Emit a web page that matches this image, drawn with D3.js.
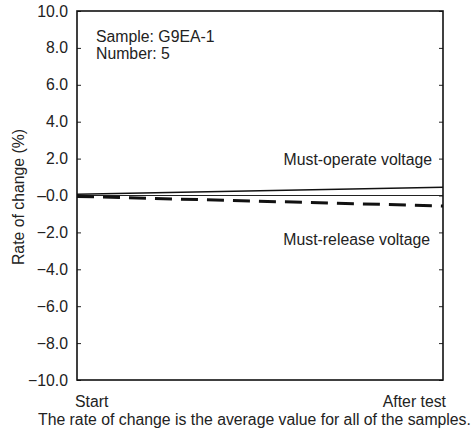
<!DOCTYPE html>
<html>
<head>
<meta charset="utf-8">
<script src="https://cdn.jsdelivr.net/npm/d3@7"></script>
<style>
  html, body { margin: 0; padding: 0; background: #fff; }
  svg { display: block; }
  text { font-family: "Liberation Sans", Arial, sans-serif; fill: #222; }
</style>
</head>
<body>
<svg id="chart" width="475" height="434"></svg>
<script>
// ---- Data ----
const categories = ["Start", "After test"];
const mustOperate = [0.07, 0.45];
const mustRelease = [-0.05, -0.57];
const yTicks = [10, 8, 6, 4, 2, 0, -2, -4, -6, -8, -10];
const yTickLabels = ["10.0", "8.0", "6.0", "4.0", "2.0", "\u20130.0", "\u22122.0", "\u22124.0", "\u22126.0", "\u22128.0", "\u221210.0"];
const seriesLabels = ["Must-operate voltage", "Must-release voltage"];
const infoLines = ["Sample: G9EA-1", "Number: 5"];
const footnote = "The rate of change is the average value for all of the samples.";
const yTitle = "Rate of change (%)";
const title = "Shock Resistance";

// ---- Layout ----
const svg = d3.select("#chart");
const pL = 77, pR = 443, pT = 11, pB = 380;
const fs = 15.8;

const x = d3.scalePoint().domain(categories).range([pL, pR]);
const y = d3.scaleLinear().domain([-10, 10]).range([pB, pT]);

// title (cropped at the top edge in the source)
svg.append("text").attr("x", 78).attr("y", 0.3)
  .attr("font-size", 30).style("fill", "#bbb").text(title);

// zero reference line
svg.append("line")
  .attr("x1", pL).attr("x2", pR)
  .attr("y1", y(0)).attr("y2", y(0))
  .attr("stroke", "#222").attr("stroke-width", 1);

// axes (ticks inside)
const leftAxis = d3.axisRight(y).tickValues(yTicks).tickSize(4).tickFormat("");
const rightAxis = d3.axisLeft(y).tickValues(yTicks).tickSize(4).tickFormat("");
const gL = svg.append("g").attr("transform", `translate(${pL},0)`).call(leftAxis);
const gR = svg.append("g").attr("transform", `translate(${pR},0)`).call(rightAxis);
[gL, gR].forEach(g => {
  g.select(".domain").remove();
  g.selectAll(".tick line").attr("stroke", "#222").attr("stroke-width", 1);
});

// frame
svg.append("rect")
  .attr("x", pL).attr("y", pT)
  .attr("width", pR - pL).attr("height", pB - pT)
  .attr("fill", "none").attr("stroke", "#111").attr("stroke-width", 1.6);

// y tick labels
svg.append("g").selectAll("text").data(yTicks).join("text")
  .attr("x", 68).attr("y", d => y(d) + 5.5)
  .attr("text-anchor", "end").attr("font-size", fs)
  .text((d, i) => yTickLabels[i]);

// y title
svg.append("text")
  .attr("transform", `translate(24,197) rotate(-90)`)
  .attr("text-anchor", "middle").attr("font-size", fs)
  .text(yTitle);

// lines
const line = d3.line().x((d, i) => x(categories[i])).y(d => y(d));
svg.append("path").datum(mustOperate).attr("d", line)
  .attr("fill", "none").attr("stroke", "#111").attr("stroke-width", 1.6);
svg.append("path").datum(mustRelease).attr("d", line)
  .attr("fill", "none").attr("stroke", "#111").attr("stroke-width", 3)
  .attr("stroke-dasharray", "17,9");

// series labels
svg.append("text").attr("x", 432).attr("y", 165)
  .attr("text-anchor", "end").attr("font-size", fs).text(seriesLabels[0]);
svg.append("text").attr("x", 430).attr("y", 245)
  .attr("text-anchor", "end").attr("font-size", fs).text(seriesLabels[1]);

// info
svg.append("g").selectAll("text").data(infoLines).join("text")
  .attr("x", 96).attr("y", (d, i) => 42 + i * 17)
  .attr("font-size", fs).text(d => d);

// x labels
svg.append("text").attr("x", 75).attr("y", 407)
  .attr("font-size", fs).text(categories[0]);
svg.append("text").attr("x", 446).attr("y", 407)
  .attr("text-anchor", "end").attr("font-size", fs).text(categories[1]);

// footnote
svg.append("text").attr("x", 38).attr("y", 425)
  .attr("font-size", fs).text(footnote);
</script>
</body>
</html>
